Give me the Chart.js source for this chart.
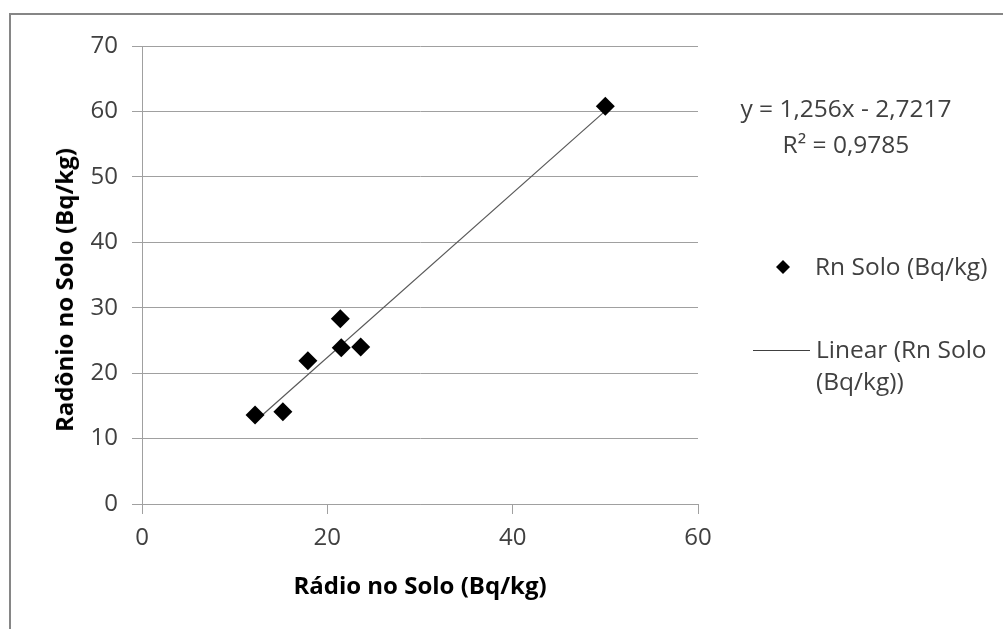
<!DOCTYPE html>
<html>
<head>
<meta charset="utf-8">
<script src="https://cdn.jsdelivr.net/npm/chart.js@4/dist/chart.umd.min.js"></script>
<style>
  html, body { margin: 0; padding: 0; background: #fff; }
  #wrap { position: relative; width: 1003px; height: 629px; overflow: hidden; font-family: "Open Sans", sans-serif; color: #404040; }
  #frame { position: absolute; left: 9px; top: 13px; width: 1200px; height: 800px; border-left: 2px solid #868686; border-top: 2px solid #868686; }
  canvas { position: absolute; left: 0; top: 0; }
  .txt { position: absolute; white-space: nowrap; font-size: 24.5px; line-height: 30px; }
  .bold { font-weight: bold; color: #000; font-size: 24px; }
</style>
</head>
<body>
<div id="wrap">
  <div id="frame"></div>
  <canvas id="chart" width="1003" height="629"></canvas>
  <div class="txt bold" id="xTitle" style="left:420px; top:570px; transform:translateX(-50%);">Rádio no Solo (Bq/kg)</div>
  <div class="txt bold" id="yTitle" style="left:64px; top:290px; transform:translate(-50%,-50%) rotate(-90deg);">Radônio no Solo (Bq/kg)</div>
  <div class="txt" style="left:846px; top:93px; transform:translateX(-50%);">y = 1,256x - 2,7217</div>
  <div class="txt" style="left:846px; top:129px; transform:translateX(-50%);">R² = 0,9785</div>
  <canvas id="legendDiamond" width="20" height="20" style="left:773px; top:257px;"></canvas>
  <div class="txt" style="left:815px; top:251px;">Rn Solo (Bq/kg)</div>
  <div style="position:absolute; left:753px; top:350px; width:57px; height:1px; background:#404040;"></div>
  <div class="txt" style="left:816px; top:333px; line-height:32px;">Linear (Rn Solo<br>(Bq/kg))</div>
</div>
<script>
// values
const radioSolo = [12.2, 15.2, 17.9, 21.4, 21.5, 23.6, 50.0];
const radonioSolo = [13.6, 14.1, 21.9, 28.3, 23.9, 24.0, 60.8];

// trendline shown on the chart: y = 1,256x - 2,7217
const slope = 1.256;
const intercept = -2.7217;

const xTicks = [0, 20, 40, 60];
const yTicks = [0, 10, 20, 30, 40, 50, 60, 70];

const points = radioSolo.map((x, i) => ({ x: x, y: radonioSolo[i] }));
const xMin = Math.min(...radioSolo);
const xMax = Math.max(...radioSolo);
const trend = [
  { x: xMin, y: slope * xMin + intercept },
  { x: xMax, y: slope * xMax + intercept },
];

const gridColor = "#a0a0a0";
const tickFont = { family: "Open Sans", size: 24 };

new Chart(document.getElementById("chart"), {
  type: "scatter",
  data: {
    datasets: [
      {
        label: "Rn Solo (Bq/kg)",
        data: points,
        pointStyle: "rectRot",
        pointRadius: 9.5,
        backgroundColor: "#000",
        borderColor: "#000",
        borderWidth: 0,
        order: 0,
      },
      {
        label: "Linear (Rn Solo (Bq/kg))",
        type: "line",
        data: trend,
        borderColor: "#595959",
        borderWidth: 1.2,
        pointRadius: 0,
        fill: false,
        order: 1,
      },
    ],
  },
  options: {
    responsive: false,
    animation: false,
    layout: { padding: { top: 46, right: 305, left: 0, bottom: 0 } },
    plugins: { legend: { display: false }, tooltip: { enabled: false } },
    scales: {
      x: {
        type: "linear",
        min: 0,
        max: 60,
        afterBuildTicks: (scale) => { scale.ticks = xTicks.map(v => ({ value: v })); },
        afterFit: (scale) => { scale.height = 125; },
        grid: { drawOnChartArea: false, drawTicks: true, tickLength: 10, color: gridColor },
        border: { color: gridColor },
        ticks: { font: tickFont, color: "#404040", padding: 10, maxRotation: 0 },
      },
      y: {
        type: "linear",
        min: 0,
        max: 70,
        afterBuildTicks: (scale) => { scale.ticks = yTicks.map(v => ({ value: v })); },
        afterFit: (scale) => { scale.width = 142; },
        grid: { drawTicks: true, tickLength: 10, color: gridColor },
        border: { color: gridColor },
        ticks: { font: tickFont, color: "#404040", padding: 14 },
      },
    },
  },
});

// legend marker
const lctx = document.getElementById("legendDiamond").getContext("2d");
lctx.fillStyle = "#000";
lctx.beginPath();
lctx.moveTo(10, 3); lctx.lineTo(17, 10); lctx.lineTo(10, 17); lctx.lineTo(3, 10);
lctx.closePath();
lctx.fill();
</script>
</body>
</html>
